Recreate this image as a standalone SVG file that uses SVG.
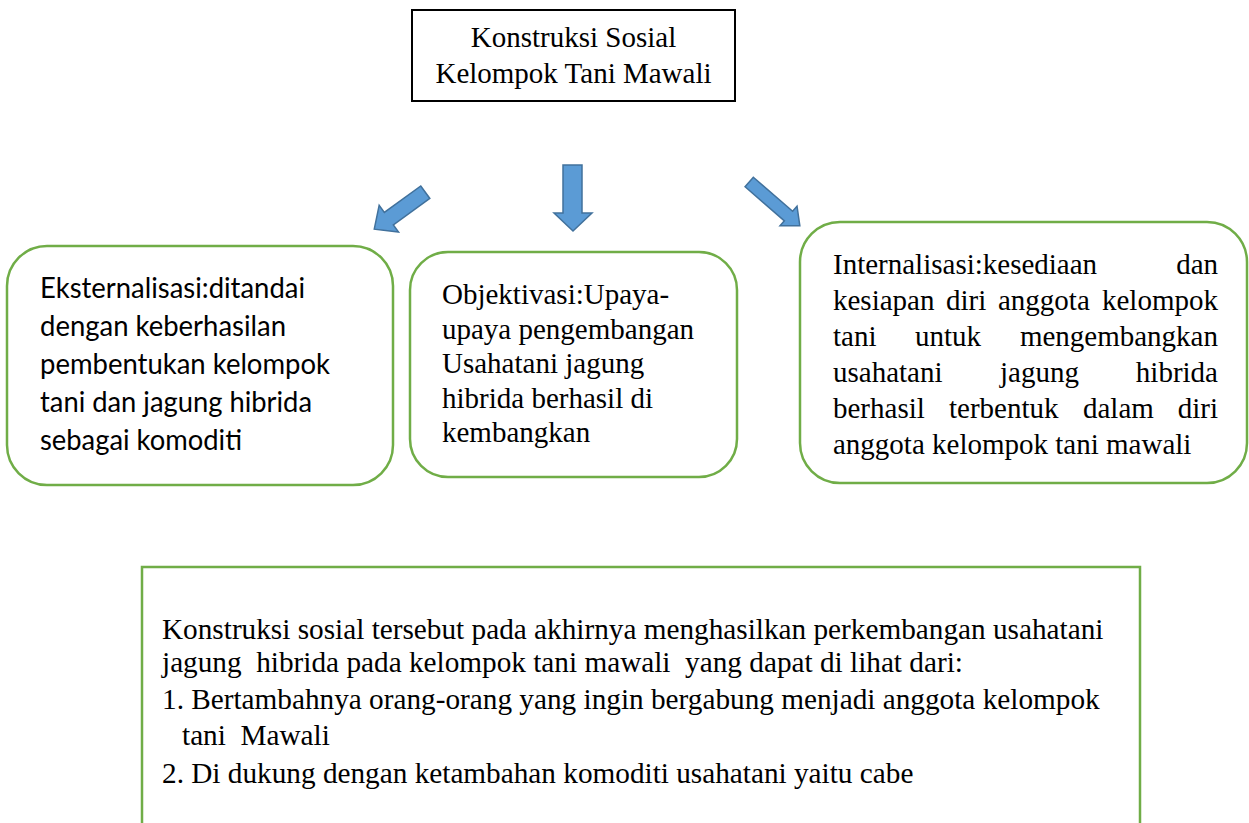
<svg xmlns="http://www.w3.org/2000/svg" width="1249" height="823" viewBox="0 0 1249 823">
<style>
.serif{font-family:'Liberation Serif','Tinos','DejaVu Serif',serif;font-size:29px;fill:#000;white-space:pre}
.big{font-size:29.25px}
.sans{font-family:Lato,'Open Sans','Liberation Sans',sans-serif;font-size:28px;fill:#000}
.gbox{fill:#fff;stroke:#70AD47;stroke-width:2.5}
.arrow{fill:#5B9BD5;stroke:#41719C;stroke-width:1.5;stroke-linejoin:miter}
</style>
<rect width="1249" height="823" fill="#fff"/>
<g id="connectors">
<path class="arrow" d="M0,-7.7 L45,-7.7 L45,-16.5 L63,0 L45,16.5 L45,7.7 L0,7.7 Z" transform="translate(425.3,192.2) rotate(144.1)"/>
<path class="arrow" d="M563,165 H582 V213 H592 L573,231 L554,213 H563 Z"/>
<path class="arrow" d="M0,-6.3 L52,-6.3 L52,-13 L67,0 L52,13 L52,6.3 L0,6.3 Z" transform="translate(749.2,182) rotate(40.9)"/>
</g>
<g id="node-title">
<rect x="412" y="10" width="323" height="91" fill="#fff" stroke="#000" stroke-width="2"/>
<text class="serif" x="573.5" y="47" text-anchor="middle">Konstruksi Sosial</text>
<text class="serif" x="573.5" y="83" text-anchor="middle">Kelompok Tani Mawali</text>
</g>
<g id="node-eksternalisasi">
<rect class="gbox" x="7" y="246" width="386" height="239" rx="40"/>
<text class="sans" x="40" y="298" textLength="265" lengthAdjust="spacingAndGlyphs">Eksternalisasi:ditandai</text>
<text class="sans" x="40" y="336" textLength="246" lengthAdjust="spacingAndGlyphs">dengan keberhasilan</text>
<text class="sans" x="40" y="374" textLength="290" lengthAdjust="spacingAndGlyphs">pembentukan kelompok</text>
<text class="sans" x="40" y="412" textLength="272" lengthAdjust="spacingAndGlyphs">tani dan jagung hibrida</text>
<text class="sans" x="40" y="450" textLength="202" lengthAdjust="spacingAndGlyphs">sebagai komoditi</text>
</g>
<g id="node-objektivasi">
<rect class="gbox" x="410" y="252" width="327" height="225" rx="38"/>
<text class="serif" x="442" y="304">Objektivasi:Upaya-</text>
<text class="serif" x="442" y="338.5">upaya pengembangan</text>
<text class="serif" x="442" y="373">Usahatani jagung</text>
<text class="serif" x="442" y="407.5">hibrida berhasil di</text>
<text class="serif" x="442" y="442">kembangkan</text>
</g>
<g id="node-internalisasi">
<rect class="gbox" x="800" y="222" width="447" height="261" rx="40"/>
<text class="serif" x="833" y="274">Internalisasi:kesediaan</text>
<text class="serif" x="1218" y="274" text-anchor="end">dan</text>
<text class="serif" x="833" y="310">kesiapan</text>
<text class="serif" x="946" y="310">diri</text>
<text class="serif" x="998" y="310">anggota</text>
<text class="serif" x="1218" y="310" text-anchor="end">kelompok</text>
<text class="serif" x="833" y="346">tani</text>
<text class="serif" x="915" y="346">untuk</text>
<text class="serif" x="1218" y="346" text-anchor="end">mengembangkan</text>
<text class="serif" x="833" y="382">usahatani</text>
<text class="serif" x="1000" y="382">jagung</text>
<text class="serif" x="1218" y="382" text-anchor="end">hibrida</text>
<text class="serif" x="833" y="418">berhasil</text>
<text class="serif" x="949" y="418">terbentuk</text>
<text class="serif" x="1083" y="418">dalam</text>
<text class="serif" x="1218" y="418" text-anchor="end">diri</text>
<text class="serif" x="833" y="454">anggota kelompok tani mawali</text>
</g>
<g id="node-kesimpulan">
<rect x="142" y="567" width="998" height="280" fill="#fff" stroke="#70AD47" stroke-width="2.5"/>
<text class="serif big" x="162" y="639">Konstruksi sosial tersebut pada akhirnya menghasilkan perkembangan usahatani</text>
<text class="serif big" x="162" y="672">jagung  hibrida pada kelompok tani mawali  yang dapat di lihat dari:</text>
<text class="serif big" x="162" y="709">1. Bertambahnya orang-orang yang ingin bergabung menjadi anggota kelompok</text>
<text class="serif big" x="182" y="745">tani  Mawali</text>
<text class="serif big" x="162" y="783">2. Di dukung dengan ketambahan komoditi usahatani yaitu cabe</text>
</g>
</svg>
